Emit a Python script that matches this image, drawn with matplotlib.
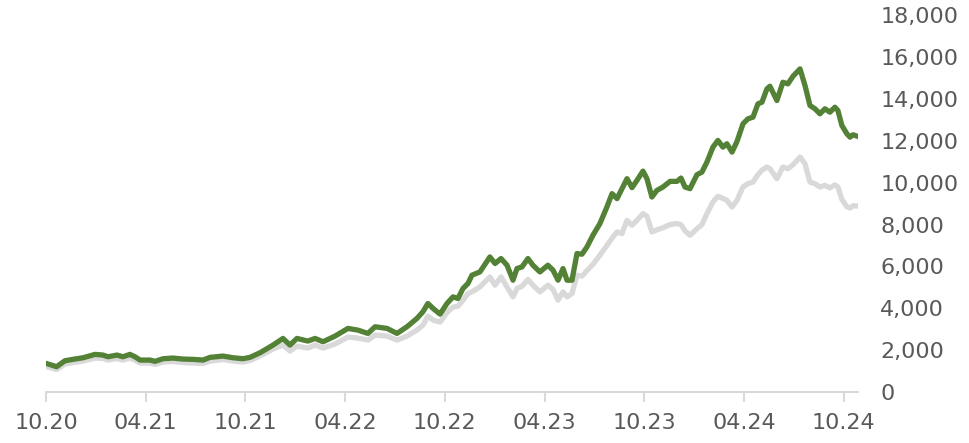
import matplotlib
matplotlib.use("Agg")
import matplotlib.pyplot as plt
from matplotlib.ticker import FuncFormatter

# months since Oct 2020
months = [0.0, 0.64, 1.14, 1.62, 2.23, 2.95, 3.43, 3.73, 4.27, 4.63,
          5.05, 5.35, 5.66, 6.26, 6.56, 7.04, 7.64, 8.24, 8.84, 9.45,
          9.87, 10.65, 11.25, 11.85, 12.27, 12.88, 13.66, 14.26, 14.68, 15.10,
          15.76, 16.19, 16.67, 17.39, 18.17, 18.77, 19.37, 19.80, 20.52, 21.12,
          21.72, 22.32, 22.68, 22.98, 23.29, 23.71, 24.13, 24.49, 24.79, 25.09,
          25.39, 25.63, 26.11, 26.71, 27.02, 27.38, 27.74, 28.10, 28.34, 28.64,
          29.00, 29.30, 29.72, 30.20, 30.51, 30.81, 31.11, 31.35, 31.65, 31.95,
          32.25, 32.55, 32.91, 33.33, 33.75, 34.06, 34.36, 34.66, 34.96, 35.26,
          35.56, 35.92, 36.16, 36.46, 36.76, 37.12, 37.55, 37.97, 38.21, 38.45,
          38.75, 39.17, 39.47, 39.77, 40.13, 40.43, 40.73, 40.97, 41.28, 41.58,
          41.94, 42.24, 42.54, 42.84, 43.08, 43.38, 43.56, 43.98, 44.34, 44.64,
          44.95, 45.37, 45.67, 45.97, 46.27, 46.57, 46.87, 47.17, 47.47, 47.65,
          47.89, 48.19, 48.38, 48.56, 48.86]

green_vals = [1369, 1208, 1494, 1560, 1637, 1798, 1765, 1684, 1765, 1684,
              1798, 1684, 1526, 1526, 1464, 1590, 1622, 1574, 1560, 1526,
              1655, 1717, 1637, 1590, 1655, 1876, 2242, 2560, 2242, 2560,
              2433, 2560, 2401, 2671, 3038, 2957, 2799, 3117, 3038, 2799,
              3117, 3515, 3833, 4231, 3993, 3721, 4231, 4546, 4469, 4946,
              5185, 5581, 5738, 6454, 6139, 6377, 6058, 5342, 5900, 5977,
              6377, 6058, 5738, 6058, 5819, 5342, 5900, 5342, 5342, 6616,
              6583, 6931, 7489, 8047, 8839, 9478, 9239, 9716, 10193, 9764,
              10112, 10556, 10193, 9316, 9635, 9793, 10065, 10065, 10223, 9793,
              9716, 10384, 10508, 10985, 11700, 12020, 11700, 11863, 11462, 11973,
              12817, 13055, 13132, 13771, 13847, 14486, 14611, 13928, 14801, 14725,
              15088, 15440, 14644, 13690, 13533, 13294, 13533, 13370, 13609, 13451,
              12736, 12340, 12178, 12292, 12211]

gray_vals = [1217, 1073, 1336, 1407, 1479, 1622, 1598, 1526, 1598, 1526,
             1622, 1526, 1383, 1383, 1312, 1431, 1455, 1407, 1383, 1360,
             1479, 1550, 1479, 1431, 1503, 1717, 2051, 2242, 1956, 2194,
             2099, 2242, 2099, 2290, 2624, 2576, 2480, 2719, 2671, 2480,
             2671, 2957, 3196, 3625, 3434, 3339, 3800, 4055, 4100, 4388,
             4700, 4786, 5023, 5500, 5104, 5500, 5023, 4546, 4946, 5050,
             5376, 5100, 4786, 5104, 4900, 4388, 4786, 4546, 4706, 5581,
             5533, 5800, 6100, 6535, 7000, 7350, 7648, 7568, 8200, 7966,
             8204, 8524, 8400, 7648, 7750, 7850, 8000, 8047, 8000, 7700,
             7489, 7800, 8000, 8524, 9078, 9350, 9250, 9158, 8839, 9158,
             9800, 9955, 10031, 10384, 10600, 10747, 10669, 10193, 10747, 10669,
             10861, 11224, 10909, 10031, 9950, 9793, 9874, 9750, 9900, 9800,
             9200, 8850, 8791, 8900, 8887]

tick_months = [0, 6, 12, 18, 24, 30, 36, 42, 48]
tick_labels = ['10.20', '04.21', '10.21', '04.22', '10.22',
               '04.23', '10.23', '04.24', '10.24']
y_ticks = list(range(0, 18001, 2000))

GREEN = '#538135'
GRAY = '#d9d9d9'
TEXT = '#595959'


def main():
    fig = plt.figure(figsize=(9.69, 4.43), dpi=100)
    ax = fig.add_axes([46 / 969, 51 / 443, 812 / 969, 376.7 / 443])

    ax.plot(months, gray_vals, color=GRAY, lw=3.8, solid_joinstyle='round',
            solid_capstyle='round', zorder=2)
    ax.plot(months, green_vals, color=GREEN, lw=3.8, solid_joinstyle='round',
            solid_capstyle='round', zorder=3)

    ax.set_xlim(0, months[-1])
    ax.set_ylim(0, 18000)

    ax.set_xticks(tick_months)
    ax.set_xticklabels(tick_labels)
    ax.set_yticks(y_ticks)
    ax.yaxis.set_major_formatter(FuncFormatter(lambda v, p: f'{int(v):,}'))
    ax.yaxis.tick_right()

    for s in ['top', 'left', 'right']:
        ax.spines[s].set_visible(False)
    ax.spines['bottom'].set_color(GRAY)
    ax.spines['bottom'].set_linewidth(1.5)

    ax.tick_params(axis='x', length=7, width=1.5, color=GRAY, labelsize=16,
                   labelcolor=TEXT, pad=8)
    ax.tick_params(axis='y', length=0, labelsize=16, labelcolor=TEXT, pad=16)

    fig.savefig('out.png', dpi=100)
    plt.close(fig)


if __name__ == '__main__':
    main()
